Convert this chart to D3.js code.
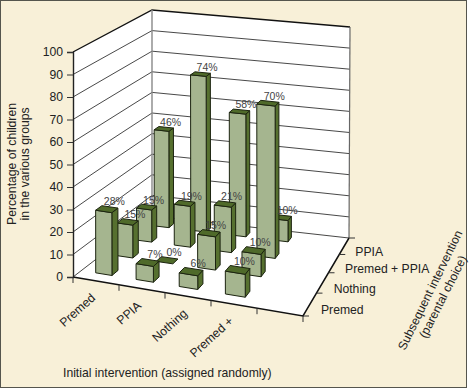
<!DOCTYPE html>
<meta charset="utf-8">
<style>
  html, body { margin: 0; padding: 0; background: #fff; }
  text { font-family: "Liberation Sans", Arial, sans-serif; fill: #222; }
</style>
<script src="https://d3js.org/d3.v7.min.js"></script>
<div id="my_dataviz"></div>
<script>
  // chart values
  var initial = ["Premed", "PPIA", "Nothing", "Premed +", ""];
  var subsequent = ["Premed", "Nothing", "Premed + PPIA", "PPIA"];
  var premedRow = [28, 7, 6, 10];
  var nothingRow = [15, 0, 15, 10];
  var bothRow = [15, 19, 21, 70];
  var ppiaRow = [46, 74, 58, 10];
  var rows = [premedRow, nothingRow, bothRow, ppiaRow];
  var valueTicks = [0, 10, 20, 30, 40, 50, 60, 70, 80, 90, 100];

  var svg = d3.select("#my_dataviz").append("svg")
    .attr("width", 473).attr("height", 388)
    .style("display", "block");

  svg.append("rect").attr("x", 0.5).attr("y", 0.5).attr("width", 466).attr("height", 387)
    .attr("fill", "#f8f0d8").attr("stroke", "#55554d");

  // maps the unit square onto a quad: p0 (0,0), p1 (1,0), p2 (1,1), p3 (0,1)
  function quadMap(p0, p1, p2, p3) {
    var dx1 = p1[0] - p2[0], dx2 = p3[0] - p2[0], sx = p0[0] - p1[0] + p2[0] - p3[0];
    var dy1 = p1[1] - p2[1], dy2 = p3[1] - p2[1], sy = p0[1] - p1[1] + p2[1] - p3[1];
    var det = dx1 * dy2 - dx2 * dy1;
    var g = (sx * dy2 - dx2 * sy) / det, h = (dx1 * sy - sx * dy1) / det;
    var a = p1[0] - p0[0] + g * p1[0], b = p3[0] - p0[0] + h * p3[0];
    var d = p1[1] - p0[1] + g * p1[1], e = p3[1] - p0[1] + h * p3[1];
    return function(u, v) {
      var w = g * u + h * v + 1;
      return [(a * u + b * v + p0[0]) / w, (d * u + e * v + p0[1]) / w];
    };
  }

  // floor and ceiling of the box
  var floor = quadMap([73, 277], [303, 316], [349, 238], [152, 216]);
  var ceil = quadMap([73, 52], [303, 82], [350, 27], [152, 10]);
  var level = d3.scaleLinear().domain([0, 100]).range([0, 1]);

  function proj(u, v, val) {
    var f = floor(u, v), c = ceil(u, v), t = level(val);
    return [f[0] + (c[0] - f[0]) * t, f[1] + (c[1] - f[1]) * t];
  }

  var col = d3.scaleBand().domain(initial.map(function(d, i) { return i; })).range([0.015, 1.015]);
  var row = d3.scaleBand().domain(subsequent).range([0, 1]);
  var line = d3.line();
  var barU = 0.082, barV = 0.07;

  // front edge ticks are evenly spaced along the edge
  var frontX = d3.scaleLinear().domain([0, 5]).range([73, 303]);
  var frontY = d3.scaleLinear().domain([0, 5]).range([277, 316]);

  // walls and floor
  var walls = svg.append("g");
  function face(pts, fill) {
    return walls.append("path").attr("d", line(pts) + "Z").attr("fill", fill);
  }
  face([proj(0, 0, 0), proj(0, 1, 0), proj(0, 1, 100), proj(0, 0, 100)], "#fff");
  face([proj(0, 1, 0), proj(1, 1, 0), proj(1, 1, 100), proj(0, 1, 100)], "#fff");
  face([proj(0, 0, 0), proj(1, 0, 0), proj(1, 1, 0), proj(0, 1, 0)], "#fff");

  valueTicks.forEach(function(t) {
    var sw = t == 100 ? 1.4 : 0.9;
    walls.append("path").attr("d", line([proj(0, 0, t), proj(0, 1, t), proj(1, 1, t)]))
      .attr("fill", "none").attr("stroke", t == 100 ? "#111" : "#333").attr("stroke-width", sw);
  });
  walls.append("path").attr("d", line([proj(0, 1, 0), proj(0, 1, 100)]))
    .attr("stroke", "#888").attr("stroke-width", 1.4);
  walls.append("path").attr("d", line([proj(1, 1, 0), proj(1, 1, 100)]))
    .attr("stroke", "#666").attr("stroke-width", 1.2);

  // floor edges
  walls.append("path").attr("d", line([proj(0, 0, 0), proj(1, 0, 0), proj(1, 1, 0)]))
    .attr("fill", "none").attr("stroke", "#111").attr("stroke-width", 1.5);

  // value axis sits on the front left edge
  var y = d3.scaleLinear().domain([0, 100]).range([277, 52]);
  var yAxis = svg.append("g").attr("transform", "translate(73,0)")
    .call(d3.axisLeft(y).tickValues(valueTicks).tickSize(6).tickPadding(4));
  yAxis.selectAll("text").style("font-size", "12.2px").style("font-family", '"Liberation Sans"').attr("fill", "#222");
  yAxis.selectAll("line").attr("stroke", "#333");
  yAxis.select(".domain").attr("stroke", "#222").attr("stroke-width", 1.4);

  // ticks on the floor edges
  d3.range(0, 6).forEach(function(i) {
    walls.append("line").attr("x1", frontX(i)).attr("x2", frontX(i)).attr("y1", frontY(i)).attr("y2", frontY(i) + 6)
      .attr("stroke", "#333");
  });
  d3.range(0, 5).forEach(function(j) {
    var p = proj(1, j / 4, 0);
    walls.append("line").attr("x1", p[0]).attr("x2", p[0] + 6).attr("y1", p[1]).attr("y2", p[1])
      .attr("stroke", "#333");
  });

  // bars, back row first
  var bars = svg.append("g");
  var labels = [];
  for (var r = subsequent.length - 1; r >= 0; r--) {
    rows[r].forEach(function(val, c) {
      var u0 = col(c) + (col.bandwidth() - barU) / 2, u1 = u0 + barU;
      var v0 = row(subsequent[r]) + (row.bandwidth() - barV) / 2, v1 = v0 + barV;
      var g = bars.append("g").attr("stroke", "#1c2410").attr("stroke-width", 1).attr("stroke-linejoin", "round");
      if (val > 0) {
        g.append("path").attr("d", line([proj(u1, v0, 0), proj(u1, v1, 0), proj(u1, v1, val), proj(u1, v0, val)]) + "Z")
          .attr("fill", "#56702f");
        g.append("path").attr("d", line([proj(u0, v0, 0), proj(u1, v0, 0), proj(u1, v0, val), proj(u0, v0, val)]) + "Z")
          .attr("fill", "#a5b58f");
      }
      g.append("path").attr("d", line([proj(u0, v0, val), proj(u1, v0, val), proj(u1, v1, val), proj(u0, v1, val)]) + "Z")
        .attr("fill", "#4f6a2a");
      var top = proj((u0 + u1) / 2, v1, val);
      labels.push({ x: top[0] + 4.5, y: top[1] - 1.5, t: val + "%" });
    });
  }

  svg.append("g").selectAll("text").data(labels).join("text")
    .attr("x", function(d) { return d.x; })
    .attr("y", function(d) { return d.y; })
    .attr("text-anchor", "middle")
    .style("font-size", "10.5px")
    .style("fill", "#444")
    .text(function(d) { return d.t; });

  // initial intervention labels, rotated under the front edge
  initial.forEach(function(name, i) {
    if (!name) return;
    svg.append("text")
      .attr("transform", "translate(" + frontX(i + 0.5) + "," + (frontY(i + 0.5) + 18) + ") rotate(-42)")
      .attr("text-anchor", "end")
      .style("font-size", "12.2px")
      .text(name);
  });

  // subsequent intervention labels
  subsequent.forEach(function(name, j) {
    var p = proj(1, (j + 0.5) / 4, 0);
    svg.append("text")
      .attr("x", p[0] + 11).attr("y", p[1] + 10)
      .style("font-size", "12.2px")
      .text(name);
  });

  // axis titles
  svg.append("text").attr("x", 63).attr("y", 377).style("font-size", "12.2px")
    .text("Initial intervention (assigned randomly)");
  svg.append("text")
    .attr("transform", "translate(16,164) rotate(-90)").attr("text-anchor", "middle")
    .style("font-size", "12.2px").text("Percentage of children");
  svg.append("text")
    .attr("transform", "translate(29,164) rotate(-90)").attr("text-anchor", "middle")
    .style("font-size", "12.2px").text("in the various groups");
  svg.append("text")
    .attr("transform", "translate(405,351) rotate(-64)")
    .style("font-size", "12.2px").text("Subsequent intervention");
  svg.append("text")
    .attr("transform", "translate(426,339) rotate(-63)")
    .style("font-size", "12.2px").text("(parental choice)");
</script>
